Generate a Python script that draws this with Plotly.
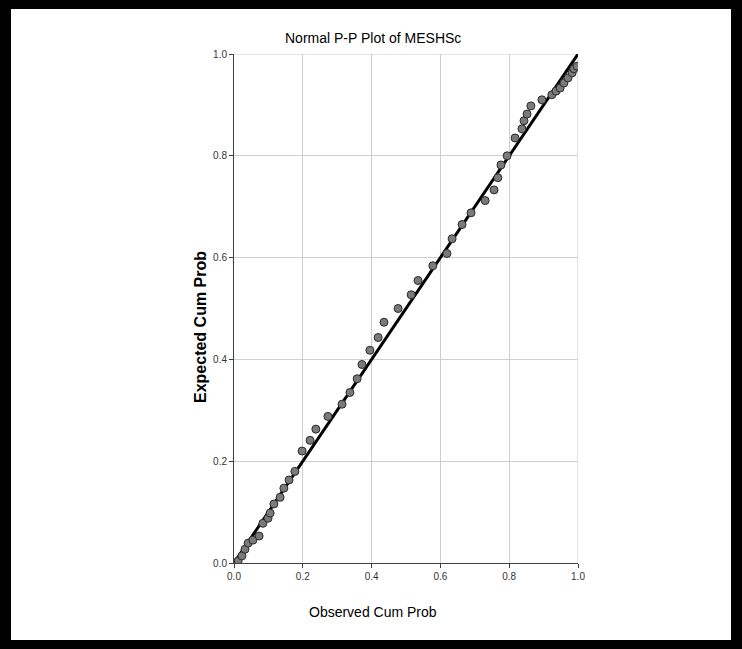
import plotly.graph_objects as go

# Observed cumulative probability (x) and expected cumulative probability (y)
observed = [0.003, 0.012, 0.023, 0.032, 0.041, 0.055, 0.073, 0.084, 0.099, 0.105,
            0.116, 0.134, 0.145, 0.160, 0.177, 0.198, 0.221, 0.238, 0.273, 0.314,
            0.337, 0.358, 0.372, 0.395, 0.419, 0.436, 0.477, 0.515, 0.535, 0.578,
            0.619, 0.634, 0.663, 0.689, 0.730, 0.756, 0.767, 0.776, 0.794, 0.817,
            0.837, 0.843, 0.852, 0.863, 0.895, 0.924, 0.936, 0.948, 0.959, 0.971,
            0.983, 0.988, 0.997]
expected = [0.000, 0.004, 0.014, 0.027, 0.039, 0.045, 0.053, 0.078, 0.088, 0.098,
            0.116, 0.129, 0.147, 0.163, 0.180, 0.220, 0.241, 0.263, 0.288, 0.312,
            0.335, 0.362, 0.390, 0.418, 0.443, 0.473, 0.500, 0.527, 0.555, 0.584,
            0.608, 0.637, 0.665, 0.688, 0.712, 0.733, 0.757, 0.782, 0.800, 0.835,
            0.853, 0.869, 0.882, 0.898, 0.910, 0.920, 0.927, 0.933, 0.943, 0.953,
            0.963, 0.971, 0.976]
ref_line = [0.0, 1.0]
tick_vals = [0.0, 0.2, 0.4, 0.6, 0.8, 1.0]
tick_text = ["0.0", "0.2", "0.4", "0.6", "0.8", "1.0"]

title_text = "Normal P-P Plot of MESHSc"
x_title = "Observed Cum Prob"
y_title = "Expected Cum Prob"

W, H = 742, 649
L, R, T, B = 234, 578, 54, 563
narrow = "Liberation Sans Narrow, Arial Narrow, Liberation Sans, Arial"

def px(x):
    return (x - L) / (R - L)

def py(y):
    return (B - y) / (B - T)

fig = go.Figure()
fig.add_trace(go.Scatter(x=ref_line, y=ref_line, mode="lines",
                         line=dict(color="black", width=3), hoverinfo="skip",
                         showlegend=False))
fig.add_trace(go.Scatter(x=observed, y=expected, mode="markers",
                         marker=dict(size=8, color="#7a7a7a",
                                     line=dict(color="#2a2a2a", width=1)),
                         showlegend=False))

axis_common = dict(range=[0, 1], tickvals=tick_vals, ticktext=tick_text,
                   showgrid=True, gridcolor="#cfcfcf", gridwidth=1.2,
                   showline=True, linecolor="#404040", linewidth=1,
                   ticks="outside", ticklen=4, tickcolor="#404040",
                   tickfont=dict(family=narrow, size=10, color="#333333"),
                   zeroline=False, fixedrange=True)

fig.update_layout(
    width=W, height=H,
    margin=dict(l=L, r=W - R, t=T, b=H - B, pad=0),
    paper_bgcolor="white", plot_bgcolor="white",
    xaxis=dict(**axis_common),
    yaxis=dict(**axis_common),
    showlegend=False,
)

# right/top border gridlines at 1.0
fig.add_shape(type="line", xref="x", yref="y", x0=1, x1=1, y0=0, y1=1,
              line=dict(color="#cfcfcf", width=1.2), layer="below")
fig.add_shape(type="line", xref="x", yref="y", x0=0, x1=1, y0=1, y1=1,
              line=dict(color="#cfcfcf", width=1.2), layer="below")

# black frame around the picture
frame = [(0, 0, W, 9), (0, 0, 11, H), (W - 11, 0, W, H), (0, H - 9, W, H)]
for x0, y0, x1, y1 in frame:
    fig.add_shape(type="rect", xref="paper", yref="paper",
                  x0=px(x0), x1=px(x1), y0=py(y1), y1=py(y0),
                  fillcolor="black", line=dict(width=0), layer="above")

fig.add_annotation(text=title_text, xref="paper", yref="paper",
                   x=px(373), y=py(38), showarrow=False,
                   xanchor="center", yanchor="middle",
                   font=dict(family=narrow, size=14, color="black"))
fig.add_annotation(text=x_title, xref="paper", yref="paper",
                   x=px(373), y=py(612), showarrow=False,
                   xanchor="center", yanchor="middle",
                   font=dict(family=narrow, size=14, color="black"))
fig.add_annotation(text="<b>" + y_title + "</b>", xref="paper", yref="paper",
                   x=px(200), y=py(327), showarrow=False, textangle=-90,
                   xanchor="center", yanchor="middle",
                   font=dict(family="Liberation Sans, Arial", size=16, color="black"))

fig.write_html("out.html", config={"displayModeBar": False},
               post_script="document.body.style.margin='0';document.body.style.overflow='hidden';")
